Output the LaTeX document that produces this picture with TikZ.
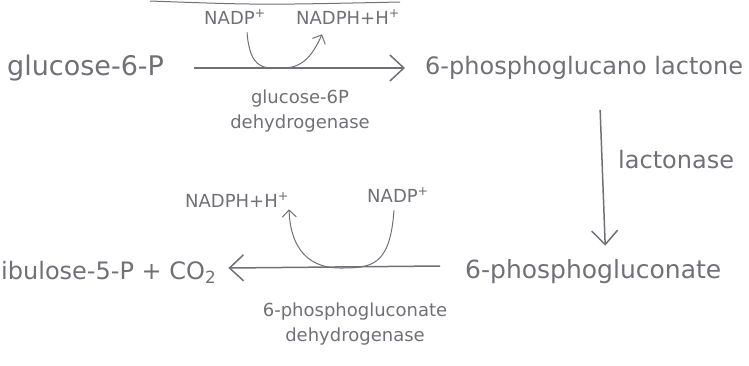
\documentclass[tikz,border=0pt]{standalone}
\usepackage{fontspec}
\setmainfont{DejaVu Sans}
\usepackage{xcolor}
\usepackage{tikz}
\usetikzlibrary{arrows.meta, positioning}

\definecolor{pencil}{RGB}{112,112,118}

\begin{document}
\begin{tikzpicture}[
  x=1pt, y=-1pt,
  every node/.style={text=pencil, inner sep=0pt},
  metab/.style={font=\fontsize{24}{28}\selectfont, anchor=west},
  enz/.style={font=\fontsize{18}{25}\selectfont, align=center},
  cof/.style={font=\fontsize{18}{22}\selectfont},
  arr/.style={draw=pencil, line width=1.5pt,
              -{Straight Barb[length=14pt, width=26pt, line width=1.5pt]}},
  side/.style={draw=pencil, line width=1pt,
               -{Straight Barb[length=7pt, width=14pt, line width=1pt]}}
]
  \useasboundingbox (0,0) rectangle (749,365);

  % metabolites
  \node[metab, font=\fontsize{27}{30}\selectfont] (g6p) at (7,68) {glucose-6-P};
  \node[metab] (pgl) at (425,68) {6-phosphoglucano lactone};
  \node[metab, font=\fontsize{25}{28}\selectfont] (pg) at (465,272) {6-phosphogluconate};
  \node[metab] (ru5p) at (1,272) {ibulose-5-P + CO\textsubscript{2}};

  % enzymes
  \node[enz] (g6pd) at (300,111) {glucose-6P\\dehydrogenase};
  \node[metab] (lac) at (618,160) {lactonase};
  \node[enz] (pgd) at (355,324) {6-phosphogluconate\\dehydrogenase};

  % cofactors
  \node[cof] (nadpA)  at (235,17)  {NADP\textsuperscript{+}};
  \node[cof] (nadphA) at (348,17)  {NADPH+H\textsuperscript{+}};
  \node[cof] (nadphB) at (237,200) {NADPH+H\textsuperscript{+}};
  \node[cof] (nadpB)  at (398,195) {NADP\textsuperscript{+}};

  % main steps
  \draw[arr] ([xshift=30pt]g6p.east) -- ([xshift=-20pt]pgl.west);
  \draw[arr] ([xshift=16pt, yshift=-30pt]pgl.south) -- ([xshift=12pt, yshift=14pt]pg.north);
  \draw[arr] ([xshift=-25pt, yshift=6pt]pg.west) -- ([xshift=12pt, yshift=4pt]ru5p.east);

  % NADP+ reduced along each dehydrogenase step
  \draw[side] ([xshift=12pt, yshift=-8pt]nadpA.south)
    .. controls (250,70) and (264,69) .. (285,68)
    .. controls (305,67) and (314,52) .. ([xshift=-26pt, yshift=-10pt]nadphA.south);
  \draw[side] ([xshift=-4pt, yshift=-8pt]nadpB.south)
    .. controls (390,266) and (372,268) .. (340,268)
    .. controls (302,268) and (290,240) .. ([xshift=52pt, yshift=-2pt]nadphB.south);

  % edge of the sketch above
  \draw[pencil, line width=1pt] (150,1) .. controls (260,5) .. (400,2);
\end{tikzpicture}
\end{document}
